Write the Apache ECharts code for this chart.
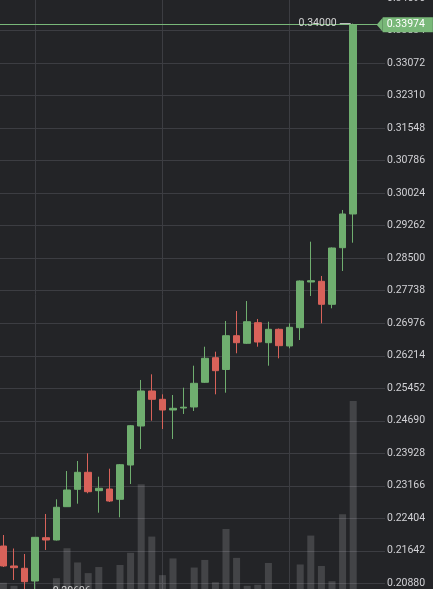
<!DOCTYPE html>
<html>
<head>
<meta charset="utf-8">
<title>K线图</title>
<script src="https://cdn.jsdelivr.net/npm/echarts@6/dist/echarts.min.js"></script>
<style>
html, body { margin: 0; padding: 0; background: #232427; }
#chart { width: 433px; height: 589px; }
</style>
</head>
<body>
<div id="chart"></div>
<script>
// K线数据（按时间顺序）
const opens = [0.21754, 0.21286, 0.21232, 0.20934, 0.21949, 0.21895, 0.22676, 0.23083, 0.23482, 0.23051,
	0.23090, 0.22849, 0.23653, 0.24567, 0.25388, 0.25193, 0.24942, 0.24989, 0.25013, 0.25592,
	0.26168, 0.25892, 0.26684, 0.26506, 0.26989, 0.26520, 0.26834, 0.26443, 0.26872, 0.27943,
	0.27959, 0.27420, 0.28747, 0.29537]
const closes = [0.21286, 0.21246, 0.20918, 0.21958, 0.21895, 0.22662, 0.23067, 0.23482, 0.23027, 0.23107,
	0.22809, 0.23660, 0.24574, 0.25388, 0.25193, 0.24942, 0.24982, 0.25008, 0.25568, 0.26154,
	0.25864, 0.26684, 0.26520, 0.27012, 0.26536, 0.26834, 0.26450, 0.26881, 0.27966, 0.27973,
	0.27420, 0.28740, 0.29537, 0.33974]
const lows = [0.21262, 0.20957, 0.20720, 0.20696, 0.21661, 0.21883, 0.22669, 0.22746, 0.22990, 0.22535,
	0.22786, 0.22427, 0.23208, 0.24028, 0.24692, 0.24497, 0.24263, 0.24849, 0.24919, 0.25576,
	0.25310, 0.25348, 0.26272, 0.26490, 0.26426, 0.25981, 0.26154, 0.26389, 0.26583, 0.27615,
	0.26975, 0.27326, 0.28201, 0.28864]
const highs = [0.22012, 0.21696, 0.21567, 0.21965, 0.22505, 0.22849, 0.23512, 0.23747, 0.23927, 0.23379,
	0.23566, 0.23676, 0.24590, 0.25646, 0.25779, 0.25310, 0.25294, 0.25465, 0.25981, 0.26426,
	0.26309, 0.27029, 0.27263, 0.27497, 0.27076, 0.27012, 0.26853, 0.26975, 0.27978, 0.28888,
	0.28084, 0.28752, 0.29631, 0.34000]
// 成交量
const volumes = [32, 26, 12, 10, 16, 41, 100, 72, 51, 63,
	14, 67, 91, 226, 123, 47, 80, 16, 62, 77,
	33, 138, 81, 26, 28, 71, 12, 14, 68, 125,
	65, 35, 167, 390]
// 右侧价格刻度
const yTicks = ['0.20880', '0.21642', '0.22404', '0.23166', '0.23928', '0.24690', '0.25452', '0.26214',
	'0.26976', '0.27738', '0.28500', '0.29262', '0.30024', '0.30786', '0.31548', '0.32310',
	'0.33072', '0.33834', '0.34596']
const lastPrice = 0.33974
const splitIndex = [3, 15, 27] // 竖向分割线位置

const green = '#6fae6f'
const red = '#d8625a'
const fontFamily = 'Roboto, "Noto Sans", sans-serif'

const kData = opens.map((o, i) => [i, o, closes[i], lows[i], highs[i]])
const volData = volumes.map((v, i) => [i, v])

const option = {
	backgroundColor: '#232427',
	animation: false,
	grid: {
		left: -1.9,
		right: 48,
		top: -10,
		bottom: -10,
		outerBoundsMode: 'none',
	},
	xAxis: {
		type: 'value',
		min: -0.5,
		max: 36,
		axisLine: { show: false },
		axisTick: { show: false, customValues: splitIndex },
		axisLabel: { show: false },
		splitLine: {
			show: true,
			lineStyle: { color: '#3c3d42', width: 1 },
		},
	},
	yAxis: [
		{
			type: 'value',
			position: 'right',
			min: 0.20512,
			max: 0.347876,
			axisLine: { show: false },
			axisTick: { show: false, customValues: yTicks.map(Number) },
			axisLabel: {
				customValues: yTicks.map(Number),
				margin: 2,
				color: '#d2d2d6',
				fontSize: 10.5,
				fontFamily: fontFamily,
				formatter: (v) => v.toFixed(5),
			},
			splitLine: {
				show: true,
				lineStyle: { color: '#3c3d42', width: 1 },
			},
		},
		{
			type: 'value',
			min: 0,
			max: 1200,
			show: false,
			splitLine: { show: false },
		},
	],
	series: [
		{
			name: '成交量',
			type: 'bar',
			yAxisIndex: 1,
			barWidth: 7,
			data: volData,
			itemStyle: { color: 'rgba(255,255,255,0.15)' },
			z: 1,
		},
		{
			name: 'K线',
			type: 'candlestick',
			data: kData,
			encode: { x: 0, y: [1, 2, 3, 4] },
			barWidth: 7,
			clip: false,
			z: 3,
			itemStyle: {
				color: green,
				color0: red,
				borderColor: green,
				borderColor0: red,
				borderWidth: 1,
			},
			markPoint: {
				symbol: 'rect',
				symbolSize: [11, 1],
				itemStyle: { color: '#d0d0d0' },
				label: {
					color: '#d6d6d6',
					fontSize: 10.5,
					fontFamily: fontFamily,
					distance: 3,
					formatter: (p) => Number(p.value).toFixed(5),
				},
				data: [
					{
						type: 'max',
						valueDim: 'highest',
						symbolOffset: [-8, 0],
						label: { position: 'left' },
					},
					{
						type: 'min',
						valueDim: 'lowest',
						symbolOffset: [9, 0],
						label: { position: 'right' },
					},
				],
			},
			markLine: {
				silent: true,
				symbol: ['none', 'triangle'],
				symbolSize: [14, 6],
				symbolRotate: 90,
				lineStyle: { color: '#79b879', width: 1, type: 'solid' },
				itemStyle: { color: '#79b879' },
				label: {
					position: 'end',
					distance: 3,
					color: '#ffffff',
					fontSize: 10.5,
					fontFamily: fontFamily,
					backgroundColor: '#79b879',
					padding: [2, 8, 2, 4],
					formatter: () => lastPrice.toFixed(5),
				},
				data: [
					[
						{ coord: [-0.5, lastPrice] },
						{ coord: [35.5, lastPrice] },
					],
				],
			},
		},
	],
}

const chart = echarts.init(document.getElementById('chart'))
chart.setOption(option)
window.addEventListener('resize', chart.resize)
</script>
</body>
</html>
